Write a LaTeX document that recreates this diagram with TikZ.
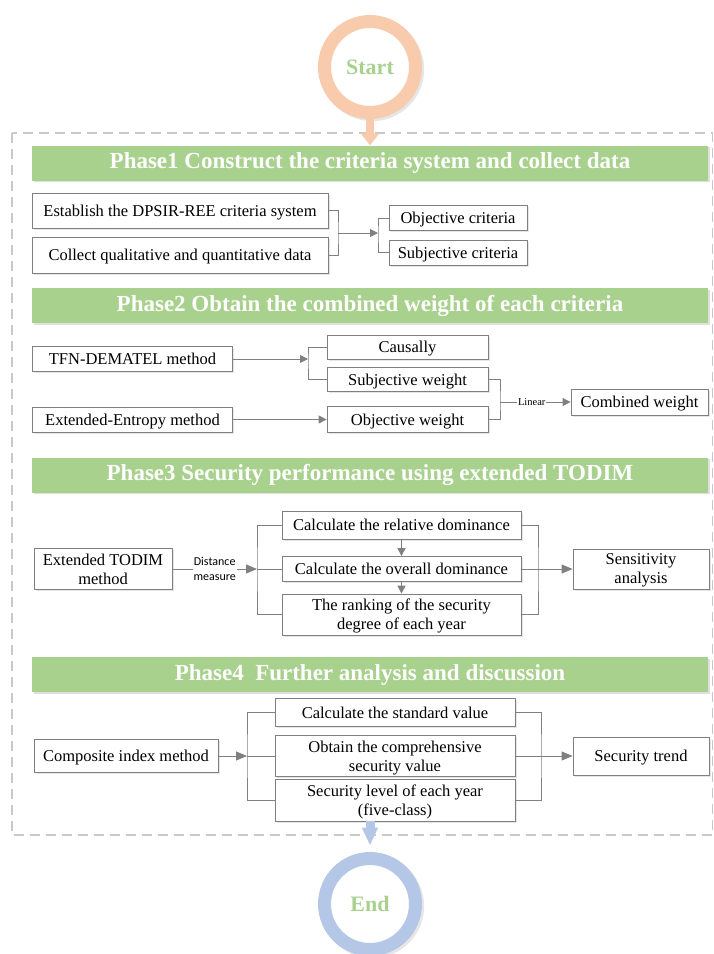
\documentclass[tikz,border=0pt]{standalone}
\usepackage{fontspec}
\setmainfont{Liberation Serif}
\newfontfamily\distfont{Carlito}
\usetikzlibrary{arrows.meta,shadows}
\definecolor{phgreen}{RGB}{169,209,142}
\definecolor{bxgray}{RGB}{127,127,127}
\definecolor{lngray}{RGB}{128,128,128}
\definecolor{startpeach}{RGB}{248,203,173}
\definecolor{endblue}{RGB}{180,199,231}
\definecolor{dashgray}{RGB}{200,200,200}

\begin{document}
\begin{tikzpicture}[x=1pt,y=-1pt,
  phbar/.style={fill=phgreen,text=white,inner sep=0pt,minimum width=676pt,minimum height=35pt,
    font=\fontsize{23}{26}\selectfont\bfseries,drop shadow={opacity=0.25,shadow xshift=1.5pt,shadow yshift=-1.5pt}},
  bx/.style 2 args={draw=bxgray,fill=white,line width=0.8pt,inner sep=0pt,align=center,text depth=0pt,
    minimum width=#1,minimum height=#2,font=\fontsize{16.5}{19}\selectfont,
    drop shadow={opacity=0.2,shadow xshift=1.5pt,shadow yshift=-1.5pt}},
  ring/.style={circle,fill=white,line width=13pt,minimum size=91pt,text=phgreen,
    font=\fontsize{22}{24}\selectfont\bfseries,
    drop shadow={opacity=0.2,shadow scale=1.14,shadow xshift=2pt,shadow yshift=-2pt}},
  conn/.style={draw=lngray,line width=0.9pt},
  arr/.style={conn,-{Triangle[length=8pt,width=8pt]}},
  bigarr/.style={conn,-{Triangle[length=11pt,width=9pt]}}]
  \useasboundingbox (0,0) rectangle (714,954);
  \draw[dashgray,line width=1.3pt,dash pattern=on 10pt off 6pt] (12,133) rectangle (712.5,835);

  \node[ring,draw=startpeach] (start) at (370,67) {Start};
  \node[phbar] (ph1) at (370,163) {Phase1 Construct the criteria system and collect data};
  \node[phbar] (ph2) at (370,305.5) {Phase2 Obtain the combined weight of each criteria};
  \node[phbar] (ph3) at (370,475) {Phase3 Security performance using extended TODIM};
  \node[phbar] (ph4) at (370,674.5) {Phase4~ Further analysis and discussion};
  \draw[startpeach,line width=8pt,-{Triangle[length=12pt,width=18pt]}] (start.south) -- (ph1.north);

  % phase 1
  \node[bx={296pt}{35pt}] (est) at (180,210.5) {Establish the DPSIR-REE criteria system};
  \node[bx={296pt}{36pt}] (col) at (180,255) {Collect qualitative and quantitative data};
  \node[bx={138pt}{25pt}] (objc) at (458,218) {Objective criteria};
  \node[bx={138pt}{25pt}] (subc) at (458,252.5) {Subjective criteria};
  \coordinate (j1) at (338,233);
  \coordinate (j2) at (378,233);
  \draw[conn] (est.east) -| (j1) |- (col.east);
  \draw[arr] (j1) -- (j2);
  \draw[conn] (objc.west) -| (j2) |- (subc.west);

  % phase 2
  \node[bx={200pt}{25pt}] (tfn) at (132.5,359) {TFN-DEMATEL method};
  \node[bx={200pt}{25pt}] (ent) at (132.5,419.5) {Extended-Entropy method};
  \node[bx={161pt}{24pt}] (caus) at (407.5,347) {Causally};
  \node[bx={161pt}{24pt}] (subw) at (407.5,379.5) {Subjective weight};
  \node[bx={161pt}{26pt}] (objw) at (407.5,419.5) {Objective weight};
  \node[bx={137pt}{26pt}] (comb) at (639.5,402) {Combined weight};
  \coordinate (j3) at (308,359);
  \coordinate (j4) at (500,402);
  \draw[arr] (tfn.east) -- (j3);
  \draw[conn] (caus.west) -| (j3) |- (subw.west);
  \draw[arr] (ent.east) -- (objw.west);
  \draw[conn] (subw.east) -| (j4) |- (objw.east);
  \draw[arr] (j4) -- node[pos=0.45,fill=white,inner sep=1pt,font=\fontsize{10.5}{12}\selectfont]{Linear} (comb.west);

  % phase 3
  \node[bx={138pt}{41pt}] (todim) at (103,569) {Extended TODIM\\method};
  \node[bx={239pt}{28pt}] (rel) at (401.5,525) {Calculate the relative dominance};
  \node[bx={239pt}{25pt}] (ovr) at (401.5,569) {Calculate the overall dominance};
  \node[bx={239pt}{41pt}] (rank) at (401.5,614.5) {The ranking of the security\\degree of each year};
  \node[bx={136pt}{40pt}] (sens) at (641,569) {Sensitivity\\analysis};
  \coordinate (j5) at (257,569);
  \coordinate (j6) at (538,569);
  \draw[bigarr] (todim.east) -- node[fill=white,inner sep=1pt,align=center,
    font=\distfont\fontsize{12}{15}\selectfont]{Distance\\measure} (j5);
  \draw[conn] (rel.west) -| (j5) |- (rank.west);
  \draw[conn] (j5) -- (ovr.west);
  \draw[arr] (rel) -- (ovr);
  \draw[arr] (ovr) -- (rank);
  \draw[conn] (rel.east) -| (j6) |- (rank.east);
  \draw[bigarr] (ovr.east) -- (sens.west);

  % phase 4
  \node[bx={184pt}{33pt}] (cim) at (126,756) {Composite index method};
  \node[bx={240pt}{28pt}] (std) at (395,712.5) {Calculate the standard value};
  \node[bx={240pt}{41pt}] (obt) at (395,756) {Obtain the comprehensive\\security value};
  \node[bx={240pt}{42pt}] (lvl) at (395,800) {Security level of each year\\(five-class)};
  \node[bx={136pt}{38pt}] (trend) at (641,756) {Security trend};
  \coordinate (j7) at (247,756);
  \coordinate (j8) at (541,756);
  \draw[bigarr] (cim.east) -- (j7);
  \draw[conn] (std.west) -| (j7) |- (lvl.west);
  \draw[conn] (j7) -- (obt.west);
  \draw[conn] (std.east) -| (j8) |- (lvl.east);
  \draw[bigarr] (obt.east) -- (trend.west);

  \node[ring,draw=endblue] (endc) at (370,904) {End};
  \draw[endblue,line width=9pt,shorten >=6.5pt,-{Triangle[length=18pt,width=15pt]}] (endc.north |- lvl.south) -- (endc.north);
\end{tikzpicture}
\end{document}
